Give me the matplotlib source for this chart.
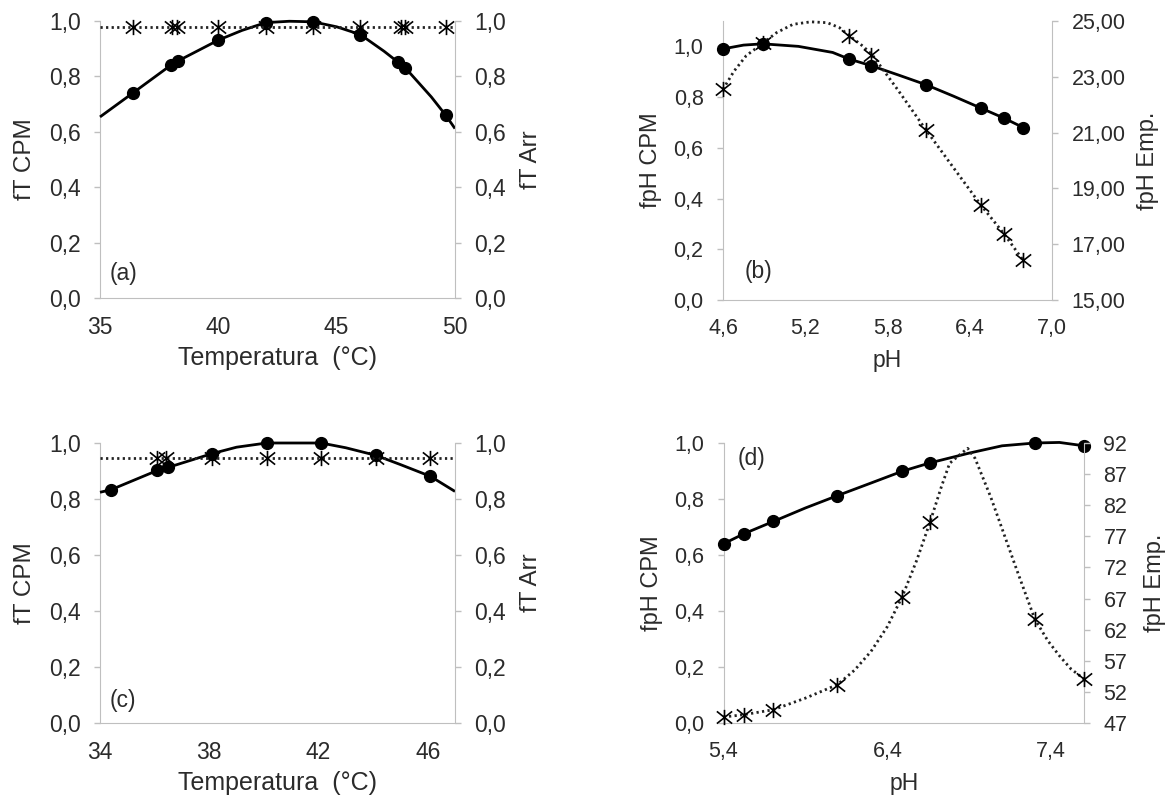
import numpy as np
import matplotlib.pyplot as plt
from matplotlib.path import Path

plt.rcParams['font.family'] = ['Liberation Sans', 'DejaVu Sans']

# ==========================================================
# DATA
# ==========================================================

# (a) temperature, CPM + Arrhenius
temp_a = [36.4, 38.0, 38.3, 40.0, 42.0, 44.0, 46.0, 47.6, 47.9, 49.6]
cpm_a = [0.74, 0.84, 0.855, 0.93, 0.99, 0.995, 0.95, 0.85, 0.83, 0.66]
temp_a_line = [35, 36.4, 38.0, 38.3, 40.0, 41.0, 42.0, 43.0, 44.0, 45.0, 46.0, 47.0, 47.6, 47.9, 49.0, 49.6, 50]
cpm_a_line = [0.653, 0.74, 0.84, 0.855, 0.93, 0.965, 0.993, 0.998, 0.996, 0.978, 0.95, 0.89, 0.85, 0.83, 0.725, 0.66, 0.611]
temp_a_arr = [36.4, 38.05, 38.25, 40.0, 42.0, 44.0, 46.0, 47.7, 47.9, 49.6]
arr_a = [0.976, 0.976, 0.976, 0.976, 0.976, 0.976, 0.976, 0.976, 0.976, 0.976]
temp_a_arr_line = [35, 50]
arr_a_line = [0.976, 0.976]

# (b) pH, CPM + empirical
ph_b = [4.6, 4.89, 5.52, 5.68, 6.08, 6.48, 6.65, 6.79]
cpm_b = [0.99, 1.01, 0.95, 0.924, 0.849, 0.757, 0.717, 0.68]
ph_b_line = [4.6, 4.75, 4.89, 5.15, 5.4, 5.52, 5.68, 5.88, 6.08, 6.28, 6.48, 6.65, 6.79]
cpm_b_line = [0.99, 1.005, 1.01, 1.0, 0.976, 0.95, 0.924, 0.887, 0.849, 0.804, 0.757, 0.717, 0.68]
emp_b = [22.55, 24.2, 24.48, 23.78, 21.1, 18.41, 17.37, 16.42]
ph_b_emp_line = [4.6, 4.68, 4.77, 4.89, 4.99, 5.11, 5.24, 5.36, 5.45, 5.52, 5.62, 5.69, 5.88, 6.08, 6.28, 6.48, 6.65, 6.79]
emp_b_line = [22.55, 23.2, 23.76, 24.2, 24.58, 24.88, 24.97, 24.94, 24.76, 24.48, 24.1, 23.78, 22.5, 21.1, 19.75, 18.41, 17.37, 16.42]

# (c) temperature, CPM + Arrhenius
temp_c = [34.4, 36.1, 36.5, 38.1, 40.1, 42.1, 44.1, 46.1]
cpm_c = [0.833, 0.902, 0.913, 0.962, 1.0, 1.0, 0.956, 0.881]
temp_c_line = [34, 34.4, 36.1, 36.5, 38.1, 39.0, 40.1, 41.0, 42.1, 43.0, 44.1, 45.0, 46.1, 47]
cpm_c_line = [0.824, 0.833, 0.902, 0.913, 0.962, 0.985, 1.0, 1.0, 1.0, 0.983, 0.956, 0.923, 0.881, 0.827]
temp_c_arr = [36.1, 36.4, 38.1, 40.1, 42.1, 44.1, 46.1]
arr_c = [0.946, 0.946, 0.946, 0.946, 0.946, 0.946, 0.946]
temp_c_arr_line = [34, 47]
arr_c_line = [0.946, 0.946]

# (d) pH, CPM + empirical
ph_d = [5.4, 5.525, 5.705, 6.095, 6.49, 6.66, 7.3, 7.6]
cpm_d = [0.64, 0.676, 0.72, 0.812, 0.899, 0.929, 1.0, 0.99]
ph_d_line = [5.4, 5.525, 5.705, 5.9, 6.095, 6.3, 6.49, 6.66, 6.9, 7.1, 7.3, 7.45, 7.6]
cpm_d_line = [0.64, 0.676, 0.72, 0.768, 0.812, 0.857, 0.899, 0.929, 0.964, 0.99, 1.0, 1.002, 0.99]
emp_d = [47.96, 48.34, 49.14, 53.16, 67.25, 79.25, 63.67, 54.07]
ph_d_emp_line = [5.4, 5.525, 5.705, 5.9, 6.095, 6.2, 6.3, 6.4, 6.49, 6.58, 6.66, 6.73, 6.78, 6.84, 6.89,
                 6.935, 7.03, 7.11, 7.19, 7.3, 7.38, 7.45, 7.52, 7.6]
emp_d_line = [47.96, 48.34, 49.14, 51.0, 53.16, 55.5, 58.5, 62.5, 67.25, 73.2, 79.25, 85.0, 88.74, 90.07, 91.15,
              89.54, 83.37, 77.49, 71.59, 63.67, 60.2, 57.8, 55.7, 54.07]

# ticks
frac_ticks = [0.0, 0.2, 0.4, 0.6, 0.8, 1.0]
frac_labels = ['0,0', '0,2', '0,4', '0,6', '0,8', '1,0']
temp_a_ticks = [35, 40, 45, 50]
temp_c_ticks = [34, 38, 42, 46]
ph_b_ticks = [4.6, 5.2, 5.8, 6.4, 7.0]
ph_b_labels = ['4,6', '5,2', '5,8', '6,4', '7,0']
ph_d_ticks = [5.4, 6.4, 7.4]
ph_d_labels = ['5,4', '6,4', '7,4']
emp_b_ticks = [15, 17, 19, 21, 23, 25]
emp_b_labels = ['15,00', '17,00', '19,00', '21,00', '23,00', '25,00']
emp_d_ticks = [47, 52, 57, 62, 67, 72, 77, 82, 87, 92]
emp_d_labels = ['47', '52', '57', '62', '67', '72', '77', '82', '87', '92']

# ==========================================================
# STYLE
# ==========================================================

TXT = '#2b2b2b'
SPINE = '#bfbfbf'

star = Path([(0, -1), (0, 1), (-1, -0.8), (1, 0.8), (-1, 0.8), (1, -0.8)],
            [Path.MOVETO, Path.LINETO] * 3)


def style_axes(ax, ax2, fs):
    for s in ['top', 'right']:
        ax.spines[s].set_visible(False)
    for s in ['top', 'left', 'bottom']:
        ax2.spines[s].set_visible(False)
    for s in ['left', 'bottom']:
        ax.spines[s].set_color(SPINE)
    ax2.spines['right'].set_color(SPINE)
    ax.tick_params(axis='y', direction='out', length=4, width=1, color=SPINE,
                   labelsize=fs, labelcolor=TXT, pad=10)
    ax.tick_params(axis='x', length=0, labelsize=fs, labelcolor=TXT, pad=13)
    ax2.tick_params(axis='y', direction='out', length=4, width=1, color=SPINE,
                    labelsize=fs, labelcolor=TXT, pad=10)


def cpm_plot(ax, xl, yl, xm, ym):
    ax.plot(xl, yl, color='black', lw=2.0, solid_capstyle='butt', zorder=3, clip_on=False)
    ax.plot(xm, ym, 'o', color='black', ms=8.5, zorder=4, clip_on=False)


def emp_plot(ax, xl, yl, xm, ym):
    ax.plot(xl, yl, color='#222222', lw=2.0, linestyle=(0, (0.8, 1.2)), zorder=3, clip_on=False)
    ax.plot(xm, ym, linestyle='none', marker=star, ms=11, mew=1.2,
            mec='black', mfc='none', zorder=4, clip_on=False)


fig = plt.figure(figsize=(11.75, 8.05), dpi=100)

# ---------------- (a)
ax = fig.add_axes([100 / 1175, 1 - 298 / 805, 355 / 1175, 277.3 / 805])
ax2 = ax.twinx()
style_axes(ax, ax2, 16.5)
cpm_plot(ax, temp_a_line, cpm_a_line, temp_a, cpm_a)
emp_plot(ax2, temp_a_arr_line, arr_a_line, temp_a_arr, arr_a)
ax.set_xlim(35, 50)
ax.set_ylim(0, 1.0)
ax2.set_ylim(0, 1.0)
ax.set_xticks(temp_a_ticks)
ax.set_yticks(frac_ticks, frac_labels)
ax2.set_yticks(frac_ticks, frac_labels)
ax.set_xlabel('Temperatura  (°C)', fontsize=18, color=TXT, labelpad=5)
ax.set_ylabel('fT CPM', fontsize=17.5, color=TXT, labelpad=9)
ax2.set_ylabel('fT Arr', fontsize=17.5, color=TXT, labelpad=10)
ax.text(0.028, 0.09, '(a)', transform=ax.transAxes, fontsize=16.5, color=TXT, va='center')

# ---------------- (b)
ax = fig.add_axes([723 / 1175, 1 - 300 / 805, 329 / 1175, 279 / 805])
ax2 = ax.twinx()
style_axes(ax, ax2, 15.5)
cpm_plot(ax, ph_b_line, cpm_b_line, ph_b, cpm_b)
emp_plot(ax2, ph_b_emp_line, emp_b_line, ph_b, emp_b)
ax.set_xlim(4.6, 7.0)
ax.set_ylim(0, 1.1)
ax2.set_ylim(15, 25)
ax.set_xticks(ph_b_ticks, ph_b_labels)
ax.set_yticks(frac_ticks, frac_labels)
ax2.set_yticks(emp_b_ticks, emp_b_labels)
ax.set_xlabel('pH', fontsize=16.5, color=TXT, labelpad=7)
ax.set_ylabel('fpH CPM', fontsize=17, color=TXT, labelpad=8)
ax2.set_ylabel('fpH Emp.', fontsize=17, color=TXT, labelpad=8)
ax.text(0.067, 0.102, '(b)', transform=ax.transAxes, fontsize=16.5, color=TXT, va='center')

# ---------------- (c)
ax = fig.add_axes([100 / 1175, 1 - 723 / 805, 355 / 1175, 280 / 805])
ax2 = ax.twinx()
style_axes(ax, ax2, 16.5)
cpm_plot(ax, temp_c_line, cpm_c_line, temp_c, cpm_c)
emp_plot(ax2, temp_c_arr_line, arr_c_line, temp_c_arr, arr_c)
ax.set_xlim(34, 47)
ax.set_ylim(0, 1.0)
ax2.set_ylim(0, 1.0)
ax.set_xticks(temp_c_ticks)
ax.set_yticks(frac_ticks, frac_labels)
ax2.set_yticks(frac_ticks, frac_labels)
ax.set_xlabel('Temperatura  (°C)', fontsize=18, color=TXT, labelpad=5)
ax.set_ylabel('fT CPM', fontsize=17.5, color=TXT, labelpad=9)
ax2.set_ylabel('fT Arr', fontsize=17.5, color=TXT, labelpad=10)
ax.text(0.028, 0.079, '(c)', transform=ax.transAxes, fontsize=16.5, color=TXT, va='center')

# ---------------- (d)
ax = fig.add_axes([723.5 / 1175, 1 - 723 / 805, 360.5 / 1175, 280 / 805])
ax2 = ax.twinx()
style_axes(ax, ax2, 15.5)
cpm_plot(ax, ph_d_line, cpm_d_line, ph_d, cpm_d)
emp_plot(ax2, ph_d_emp_line, emp_d_line, ph_d, emp_d)
ax.set_xlim(5.4, 7.6)
ax.set_ylim(0, 1.0)
ax2.set_ylim(47, 92)
ax.set_xticks(ph_d_ticks, ph_d_labels)
ax.set_yticks(frac_ticks, frac_labels)
ax2.set_yticks(emp_d_ticks, emp_d_labels)
ax.set_xlabel('pH', fontsize=16.5, color=TXT, labelpad=7)
ax.set_ylabel('fpH CPM', fontsize=17, color=TXT, labelpad=8)
ax2.set_ylabel('fpH Emp.', fontsize=17, color=TXT, labelpad=12)
ax.text(0.039, 0.943, '(d)', transform=ax.transAxes, fontsize=16.5, color=TXT, va='center')

fig.savefig('out.png', dpi=100)
